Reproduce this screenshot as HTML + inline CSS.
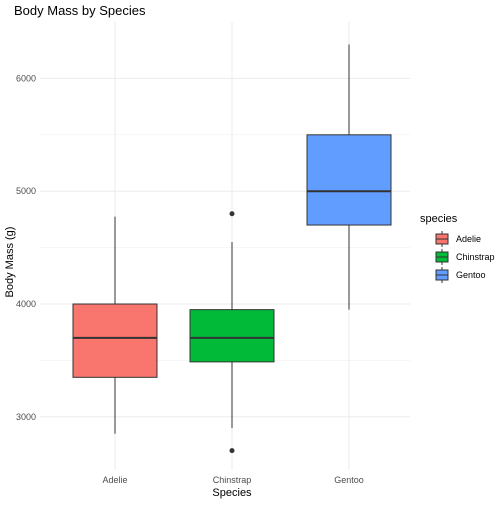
<!DOCTYPE html>
<html><head><meta charset="utf-8"><style>
body{margin:0;background:#fff;font-family:"Liberation Sans",sans-serif}
</style></head><body>
<svg id="chart" width="504" height="504" xmlns="http://www.w3.org/2000/svg" font-family="Liberation Sans, sans-serif">
<text x="14" y="15" font-size="13" fill="#000">Body Mass by Species</text>
<g id="grid"></g><g id="marks"></g><g id="axes"></g>
<text x="232" y="496" font-size="11" text-anchor="middle">Species</text>
<text transform="translate(13,262) rotate(-90)" font-size="11" text-anchor="middle">Body Mass (g)</text>
<g id="legend"></g>
</svg>
<script>
const categories=["Adelie","Chinstrap","Gentoo"];
const colors=["#F8766D","#00BA38","#619CFF"];
const lowerWhisker=[2850,2900,3950];
const q1=[3350,3487,4700];
const medians=[3700,3700,5000];
const q3=[4000,3950,5500];
const upperWhisker=[4775,4550,6300];
const outliers=[[],[4800,2700],[]];
const yTicks=[3000,4000,5000,6000];
const yMinor=[2500,3500,4500,5500];
const ns="http://www.w3.org/2000/svg";
const L=40,R=410,T=22,B=470;
const y=v=>304-(v-4000)*0.1128;
const x=i=>115+i*117;
const hw=42;
function mk(t,a,p){const e=document.createElementNS(ns,t);for(const k in a)e.setAttribute(k,a[k]);p.appendChild(e);return e;}
const g=document.getElementById('grid'),m=document.getElementById('marks'),ax=document.getElementById('axes'),lg=document.getElementById('legend');
yMinor.forEach(v=>{if(y(v)>T&&y(v)<B){const l=mk('line',{x1:L,x2:R,y1:y(v),y2:y(v),stroke:'#f2f2f2','stroke-width':0.6},g);

}});
yTicks.forEach(v=>{const l=mk('line',{x1:L,x2:R,y1:y(v),y2:y(v),stroke:'#ebebeb','stroke-width':1},g);


const t=mk('text',{x:36,y:y(v)+3,'font-size':9,'text-anchor':'end',fill:'#4d4d4d'},ax);t.textContent=v;

});
categories.forEach((c,i)=>{const l=mk('line',{x1:x(i),x2:x(i),y1:T,y2:B,stroke:'#ebebeb','stroke-width':1},g);


const t=mk('text',{x:x(i),y:483,'font-size':9,'text-anchor':'middle',fill:'#4d4d4d'},ax);t.textContent=c;


const w=mk('line',{x1:x(i),x2:x(i),y1:y(upperWhisker[i]),y2:y(lowerWhisker[i]),stroke:'#333','stroke-width':1},m);


const b=mk('rect',{x:x(i)-hw,y:y(q3[i]),width:hw*2,height:y(q1[i])-y(q3[i]),fill:colors[i],stroke:'#333','stroke-width':1},m);


const md=mk('line',{x1:x(i)-hw,x2:x(i)+hw,y1:y(medians[i]),y2:y(medians[i]),stroke:'#333','stroke-width':2},m);


outliers[i].forEach(v=>{const o=mk('circle',{cx:x(i),cy:y(v),r:2.5,fill:'#333'},m);

});
});
const tt=mk('text',{x:420,y:222,'font-size':11},lg);tt.textContent='species';


categories.forEach((c,i)=>{const yy=231+i*18;
const k=mk('g',{},lg);


mk('line',{x1:442,x2:442,y1:yy,y2:yy+16,stroke:'#333'},k);
mk('rect',{x:436,y:yy+3,width:12,height:10,fill:colors[i],stroke:'#333'},k);
mk('line',{x1:436,x2:448,y1:yy+8,y2:yy+8,stroke:'#333'},k);
const t=mk('text',{x:456,y:yy+11,'font-size':9},k);t.textContent=c;});
</script>
</body></html>
